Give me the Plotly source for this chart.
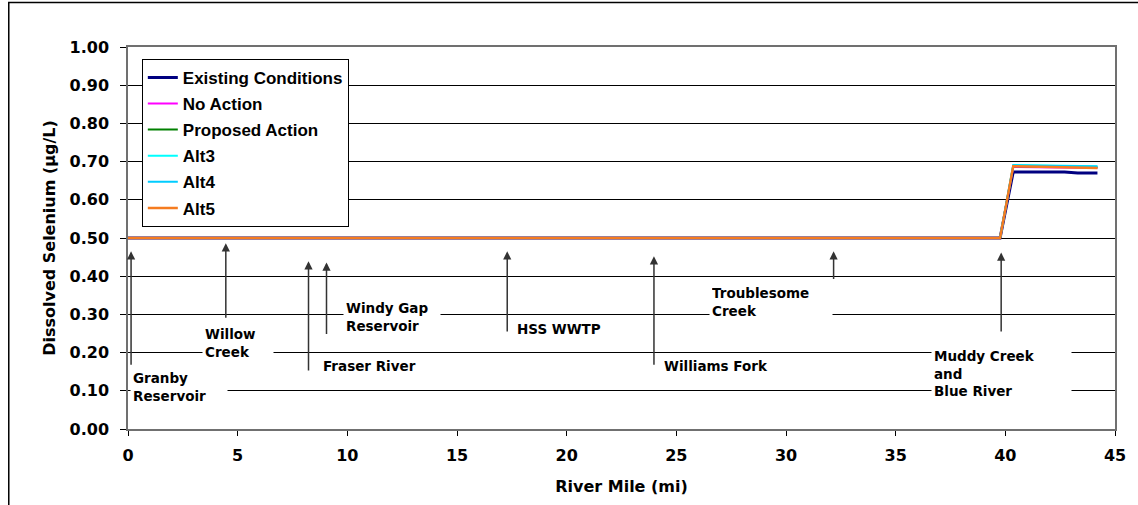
import plotly.graph_objects as go

# ---- data ----
river_mile = [0, 39.76, 40.36, 42.7, 43.3, 44.2]
existing = [0.50, 0.50, 0.673, 0.673, 0.670, 0.670]
no_action = [0.50, 0.50, 0.686, 0.684, 0.683, 0.683]
proposed = [0.50, 0.50, 0.688, 0.686, 0.685, 0.685]
alt3 = [0.50, 0.50, 0.691, 0.689, 0.689, 0.688]
alt4 = [0.50, 0.50, 0.690, 0.688, 0.688, 0.687]
alt5 = [0.50, 0.50, 0.688, 0.685, 0.684, 0.683]

series_names = ["Existing Conditions", "No Action", "Proposed Action", "Alt3", "Alt4", "Alt5"]
series_values = [existing, no_action, proposed, alt3, alt4, alt5]
series_colors = ["#000080", "#FF00FF", "#008000", "#00FFFF", "#00CCFF", "#F57C20"]
series_widths = [3, 2, 2, 2, 2, 2.5]

# tributary / feature annotations
feature_labels = ["Granby<br>Reservoir", "Willow<br>Creek", "Fraser River", "Windy Gap<br>Reservoir",
                  "HSS WWTP", "Williams Fork", "Troublesome<br>Creek", "Muddy Creek<br>and<br>Blue River"]
feature_mile = [0.14, 4.46, 8.23, 9.05, 17.29, 23.98, 32.17, 39.81]
arrow_head = [0.465, 0.486, 0.439, 0.436, 0.465, 0.452, 0.465, 0.462]
arrow_tail = [0.164, 0.287, 0.149, 0.245, 0.251, 0.164, 0.389, 0.251]
label_mile = [0.10, 3.36, 8.77, 9.78, 17.6, 24.3, 26.5, 36.6]
label_value = [0.110, 0.225, 0.164, 0.292, 0.261, 0.164, 0.333, 0.146]
label_box_w = [92, 66, 100, 92, 90, 120, 118, 135]

x_ticks = [0, 5, 10, 15, 20, 25, 30, 35, 40, 45]
y_ticks = [0.0, 0.1, 0.2, 0.3, 0.4, 0.5, 0.6, 0.7, 0.8, 0.9, 1.0]

FONT = "DejaVu Sans, Liberation Sans, Arial, sans-serif"
LEG_FONT = "Liberation Sans, Arial, sans-serif"

fig = go.Figure()
for i, (nm, vals, col, w) in enumerate(zip(series_names, series_values, series_colors, series_widths)):
    fig.add_trace(go.Scatter(x=river_mile, y=vals, mode="lines", name="<b>" + nm + "</b>",
                             line=dict(color=col, width=w), legendgroup=f"g{i}"))

annotations = []
for lab, m, h, t, lm, lv, bw in zip(feature_labels, feature_mile, arrow_head, arrow_tail,
                                    label_mile, label_value, label_box_w):
    annotations.append(dict(x=m, y=h, ax=m, ay=t, xref="x", yref="y", axref="x", ayref="y",
                            text="", showarrow=True, arrowhead=2, arrowsize=1.1, arrowwidth=1.5,
                            arrowcolor="#333333", standoff=0))
    annotations.append(dict(x=lm, y=lv, xref="x", yref="y", text="<b>" + lab + "</b>", showarrow=False,
                            xanchor="left", yanchor="middle", align="left", width=bw,
                            font=dict(family=FONT, size=13.5, color="black"),
                            bgcolor="white", borderpad=2))

fig.update_layout(
    width=1138, height=505,
    margin=dict(l=128, r=21, t=47, b=75),
    paper_bgcolor="white", plot_bgcolor="white",
    font=dict(family=FONT, color="black"),
    showlegend=True,
    legend=dict(x=0.014, y=0.969, xanchor="left", yanchor="top",
                bgcolor="white", bordercolor="black", borderwidth=1,
                font=dict(family=LEG_FONT, size=17, color="black"),
                traceorder="grouped", tracegroupgap=1),
    annotations=annotations,
    shapes=[dict(type="rect", xref="paper", yref="paper",
                 x0=-0.1208, x1=1.3, y0=-0.5, y1=1.1162,
                 line=dict(color="black", width=1.5), fillcolor="rgba(0,0,0,0)", layer="below")],
)

fig.update_xaxes(range=[0, 45], tickmode="array", tickvals=x_ticks,
                 ticktext=[f"<b>{v}</b>" for v in x_ticks],
                 showgrid=False, zeroline=False, showline=True, linecolor="#707070", linewidth=1.5,
                 mirror=True, ticks="outside", ticklen=5, tickcolor="black",
                 ticklabelstandoff=6,
                 tickfont=dict(family=FONT, size=16, color="black"),
                 title=dict(text="<b>River Mile (mi)</b>", font=dict(family=FONT, size=16, color="black"), standoff=17))
fig.update_yaxes(range=[0, 1], tickmode="array", tickvals=y_ticks,
                 ticktext=[f"<b>{v:.2f}</b>" for v in y_ticks],
                 showgrid=True, gridcolor="black", gridwidth=1, zeroline=False,
                 showline=True, linecolor="#707070", linewidth=1.5, mirror=True,
                 ticks="outside", ticklen=6, tickcolor="black",
                 ticklabelstandoff=8,
                 tickfont=dict(family=FONT, size=16, color="black"),
                 title=dict(text="<b>Dissolved Selenium (μg/L)</b>", font=dict(family=FONT, size=16, color="black"), standoff=10))

fig.write_html("out.html", config={"displayModeBar": False},
               post_script="document.body.style.margin='0';")
